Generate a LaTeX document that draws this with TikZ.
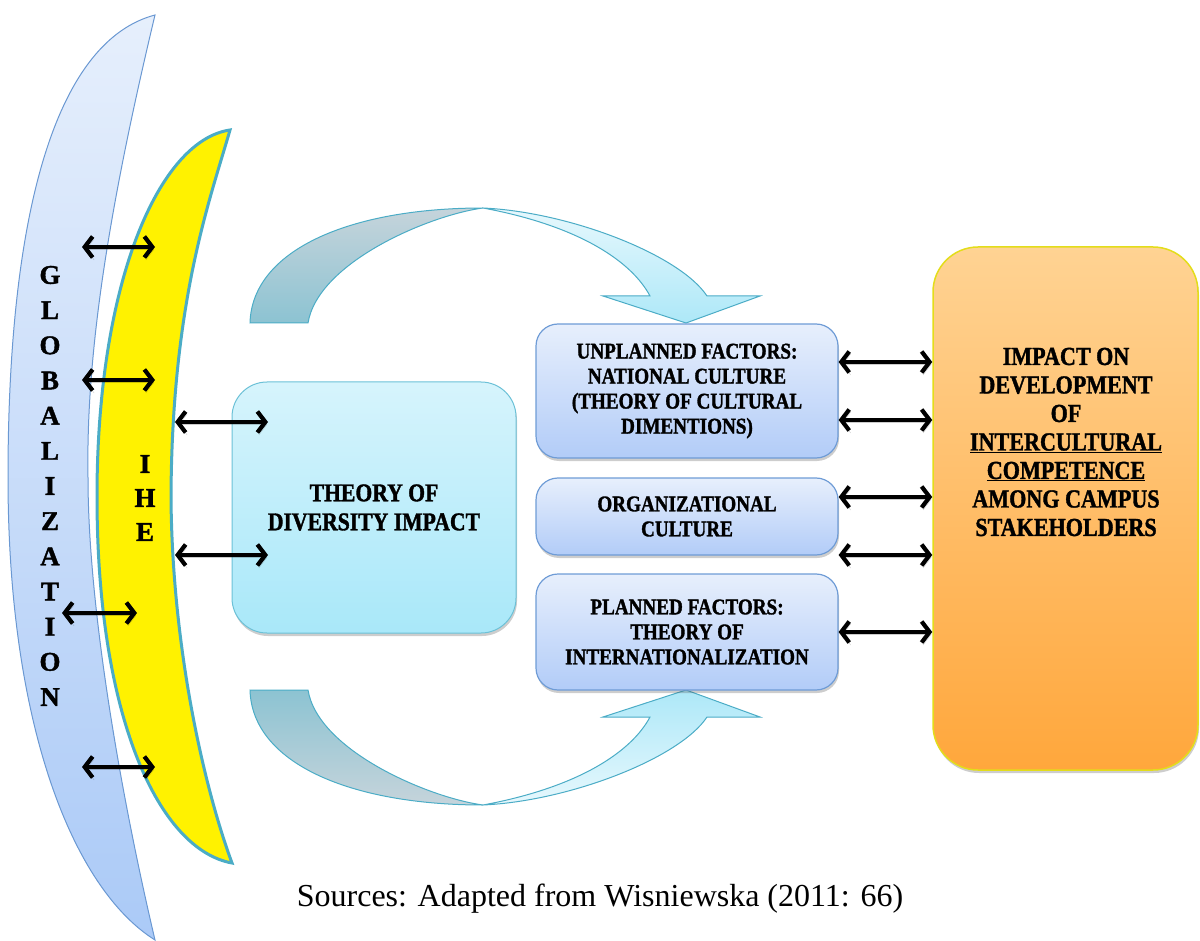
\documentclass[tikz,border=0pt]{standalone}
\usepackage{fontspec}
\setmainfont{Liberation Serif}
\newfontfamily\labelfont[FakeStretch=0.85, BoldFeatures={FakeBold=1.4}]{Liberation Serif}
\newfontfamily\letterfont[BoldFeatures={FakeBold=1.4}]{Liberation Serif}
\usetikzlibrary{arrows.meta,shadows}

\definecolor{globtop}{HTML}{E6EFFC}
\definecolor{globbot}{HTML}{ABCAF7}
\definecolor{globline}{HTML}{6A98D2}
\definecolor{iheline}{HTML}{4BACC6}
\definecolor{bendline}{HTML}{4BACC6}
\definecolor{benddark}{HTML}{8CC3D2}
\definecolor{bendgrey}{HTML}{C6D4DB}
\definecolor{bendlight}{HTML}{E7F8FD}
\definecolor{bendmid}{HTML}{ADE8F8}
\definecolor{divtop}{HTML}{D6F4FC}
\definecolor{divbot}{HTML}{A9E8F9}
\definecolor{divline}{HTML}{6CC1D7}
\definecolor{factop}{HTML}{E7EFFC}
\definecolor{facbot}{HTML}{B2CCF8}
\definecolor{facline}{HTML}{6F9CD6}
\definecolor{imptop}{HTML}{FFD393}
\definecolor{impbot}{HTML}{FFA73C}
\definecolor{impline}{HTML}{E3DD1A}

\begin{document}
\begin{tikzpicture}[x=1pt,y=-1pt,
  globalband/.style={draw=globline, line width=1pt, top color=globtop, bottom color=globbot},
  iheband/.style={draw=iheline, line width=3pt, fill=yellow},
  bendline/.style={draw=bendline, line width=1pt},
  boxshadow/.style={drop shadow={shadow xshift=1pt, shadow yshift=-3pt, opacity=.28, fill=black!70}},
  divbox/.style={boxshadow, rounded corners=35pt, draw=divline, line width=1pt,
    top color=divtop, bottom color=divbot, minimum width=284pt, minimum height=251pt,
    inner sep=0pt, align=center, font=\labelfont\bfseries\fontsize{25.5}{29}\selectfont},
  factor/.style={boxshadow, rounded corners=22pt, draw=facline, line width=1.2pt,
    top color=factop, bottom color=facbot, minimum width=302pt,
    inner sep=0pt, align=center, font=\labelfont\bfseries\fontsize{22.5}{25}\selectfont},
  impactbox/.style={boxshadow, rounded corners=45pt, draw=impline, line width=1.5pt,
    top color=imptop, bottom color=impbot, minimum width=265pt, minimum height=523pt},
  impacttext/.style={inner sep=0pt, align=center, font=\labelfont\bfseries\fontsize{26}{28.5}\selectfont},
  bandletter/.style={inner sep=0pt, font=\letterfont\bfseries\fontsize{27}{27}\selectfont},
  link/.style={{Straight Barb[length=8pt,width=21pt]}-{Straight Barb[length=8pt,width=21pt]},
    line width=4.2pt, black,
    preaction={draw=black, opacity=.2, transform canvas={shift={(1.5pt,-2.5pt)}}}},
  caption/.style={inner sep=0pt, font=\fontsize{32}{36}\selectfont}
]
\useasboundingbox (0,0) rectangle (1200,941);

% outer band: globalization
\path[globalband] (155,15) .. controls (60,40) and (8,200) .. (8,477.5)
  .. controls (8,730) and (75,890) .. (155,940)
  .. controls (122,800) and (88,610) .. (88,477.5)
  .. controls (86,360) and (106,220) .. (155,15) -- cycle;

% inner band: IHE
\path[iheband] (230,130) .. controls (160,140) and (97,280) .. (97,496.5)
  .. controls (97,720) and (160,850) .. (232,863)
  .. controls (205,790) and (172,650) .. (171,496.5)
  .. controls (172,300) and (210,200) .. (230,130) -- cycle;

\foreach \ch [count=\i] in {G,L,O,B,A,L,I,Z,A,T,I,O,N}
  \node[bandletter] (glob\i) at (50,{275+35.17*(\i-1)}) {\ch};
\foreach \ch [count=\i] in {I,H,E}
  \node[bandletter] (ihe\i) at (145,{464+34*(\i-1)}) {\ch};

% curved arrow above
\path[bendline, top color=bendgrey, bottom color=benddark]
  (250,323) .. controls (252,250) and (350,208) .. (483,208)
  .. controls (430,215) and (318,262) .. (308,323) -- cycle;
\path[bendline, top color=bendlight, bottom color=bendmid]
  (483,208) .. controls (570,212) and (680,255) .. (707,296)
  -- (760,296) -- (686,323) -- (603,296) -- (650,296)
  .. controls (632,262) and (580,226) .. (483,208) -- cycle;

% curved arrow below (mirror image of the one above)
\begin{scope}[shift={(0,1013)}, yscale=-1]
\path[bendline, top color=benddark, bottom color=bendgrey]
  (250,323) .. controls (252,250) and (350,208) .. (483,208)
  .. controls (430,215) and (318,262) .. (308,323) -- cycle;
\path[bendline, top color=bendmid, bottom color=bendlight]
  (483,208) .. controls (570,212) and (680,255) .. (707,296)
  -- (760,296) -- (686,323) -- (603,296) -- (650,296)
  .. controls (632,262) and (580,226) .. (483,208) -- cycle;
\end{scope}

% boxes
\node[divbox] (diversity) at (374,507.5) {THEORY OF\\DIVERSITY IMPACT};
\node[factor, minimum height=134pt] (unplanned) at (687,391)
  {UNPLANNED FACTORS:\\NATIONAL CULTURE\\(THEORY OF CULTURAL\\DIMENTIONS)};
\node[factor, minimum height=77pt] (organizational) at (687,516.5)
  {ORGANIZATIONAL\\CULTURE};
\node[factor, minimum height=116pt] (planned) at (687,632)
  {PLANNED FACTORS:\\THEORY OF\\INTERNATIONALIZATION};
\node[impactbox] (impact) at (1065.5,508.5) {};
\node[impacttext] (impacttext) at (1066,442)
  {IMPACT ON\\DEVELOPMENT\\OF\\\underline{INTERCULTURAL}\\\underline{COMPETENCE}\\AMONG CAMPUS\\STAKEHOLDERS};

% link ends on the bands
\coordinate (ga) at (82,247);  \coordinate (ha) at (155,247);
\coordinate (gb) at (82,380);  \coordinate (hb) at (155,380);
\coordinate (gc) at (62,613);  \coordinate (hc) at (137,613);
\coordinate (gd) at (82,767);  \coordinate (hd) at (155,767);
\coordinate (ia) at (175,422); \coordinate (da) at (268,422);
\coordinate (ib) at (175,555); \coordinate (db) at (268,555);
\coordinate (ra) at (0,362);
\coordinate (rb) at (0,420);
\coordinate (rc) at (0,497);
\coordinate (rd) at (0,555);
\coordinate (re) at (0,632);

\draw[link] (ga) -- (ha);
\draw[link] (gb) -- (hb);
\draw[link] (gc) -- (hc);
\draw[link] (gd) -- (hd);
\draw[link] (ia) -- (da);
\draw[link] (ib) -- (db);
\draw[link] (unplanned.east |- ra) -- (impact.west |- ra);
\draw[link] (unplanned.east |- rb) -- (impact.west |- rb);
\draw[link] (organizational.east |- rc) -- (impact.west |- rc);
\draw[link] (organizational.east |- rd) -- (impact.west |- rd);
\draw[link] (planned.east |- re) -- (impact.west |- re);

\node[caption] (source) at (600,899) {Sources: Adapted from Wisniewska (2011: 66)};
\end{tikzpicture}
\end{document}
